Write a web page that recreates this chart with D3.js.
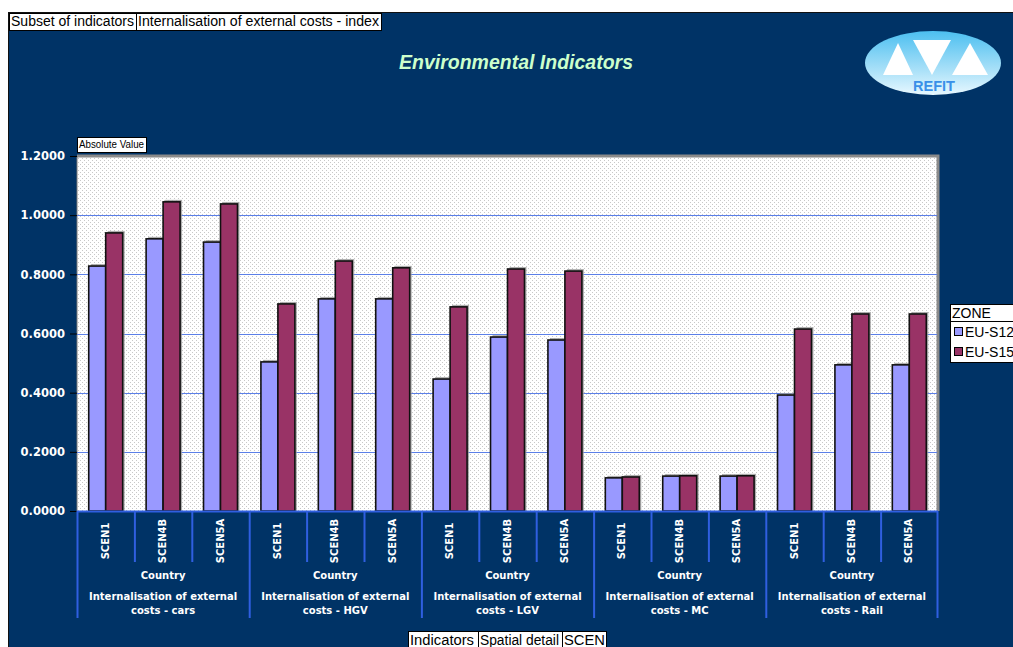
<!DOCTYPE html>
<html><head><meta charset="utf-8">
<script src="https://cdn.jsdelivr.net/npm/d3@7"></script>
<style>body{margin:0;background:#fff}svg{display:block}</style>
</head><body>
<svg id="c" width="1013" height="647"></svg>
<script>
const groups = ["Internalisation of external costs - cars","Internalisation of external costs - HGV","Internalisation of external costs - LGV","Internalisation of external costs - MC","Internalisation of external costs - Rail"];
const groupLines = [["Internalisation of external","costs - cars"],["Internalisation of external","costs - HGV"],["Internalisation of external","costs - LGV"],["Internalisation of external","costs - MC"],["Internalisation of external","costs - Rail"]];
const scens = ["SCEN1","SCEN4B","SCEN5A"];
const seriesNames = ["EU-S12","EU-S15"];
const euS12 = [0.828,0.920,0.909, 0.504,0.717,0.717, 0.446,0.588,0.578, 0.112,0.118,0.118, 0.392,0.494,0.494];
const euS15 = [0.940,1.045,1.038, 0.700,0.845,0.822, 0.690,0.818,0.811, 0.115,0.119,0.119, 0.615,0.666,0.666];
const yTicks = [0,0.2,0.4,0.6,0.8,1.0,1.2];
const colors = ["#9999FF","#993366"];

const svg = d3.select("#c");
const navy = "#003366";
svg.append("rect").attr("x",8).attr("y",12).attr("width",1005).attr("height",635).attr("fill",navy);
svg.append("line").attr("x1",8.5).attr("x2",8.5).attr("y1",12).attr("y2",647).attr("stroke","#111");
svg.append("line").attr("x1",8).attr("x2",1013).attr("y1",12.5).attr("y2",12.5).attr("stroke","#111");

const defs = svg.append("defs");
const pat = defs.append("pattern").attr("id","dots").attr("width",4).attr("height",4).attr("patternUnits","userSpaceOnUse");
pat.append("rect").attr("width",4).attr("height",4).attr("fill","#ffffff");
pat.append("rect").attr("x",0).attr("y",0).attr("width",1).attr("height",1).attr("fill","#c8c8c8");
pat.append("rect").attr("x",2).attr("y",2).attr("width",1).attr("height",1).attr("fill","#c8c8c8");
const grad = defs.append("linearGradient").attr("id","lg").attr("x1",0).attr("y1",0).attr("x2",0).attr("y2",1);
grad.append("stop").attr("offset","0%").attr("stop-color","#4cbff0");
grad.append("stop").attr("offset","60%").attr("stop-color","#a8e0f8");
grad.append("stop").attr("offset","100%").attr("stop-color","#e8f8ff");

const L=77, R=938, T=156, B=511;
const cats = [];
groups.forEach((g,gi)=>scens.forEach((s,si)=>cats.push(gi+"|"+s)));
const x0 = d3.scaleBand().domain(cats).range([L,R]).paddingInner(0).paddingOuter(0);
const x1 = d3.scaleBand().domain(seriesNames).range([0,x0.bandwidth()]).paddingInner(0).paddingOuter(0.69);
const y = d3.scaleLinear().domain([0,1.2]).range([B,T]);

// plot bg
svg.append("rect").attr("x",L).attr("y",T).attr("width",R-L).attr("height",B-T).attr("fill","url(#dots)");
svg.append("path").attr("d",`M${L},${T}H${R}V${B}`).attr("fill","none").attr("stroke","#8a8a8a").attr("stroke-width",3);
svg.append("line").attr("x1",L).attr("x2",L).attr("y1",T).attr("y2",B).attr("stroke","#777").attr("stroke-width",1);

// gridlines
svg.append("g").selectAll("line").data(yTicks.filter(t=>t>0 && t<1.2)).join("line")
  .attr("x1",L).attr("x2",R-1).attr("y1",d=>Math.round(y(d))+0.5).attr("y2",d=>Math.round(y(d))+0.5)
  .attr("stroke","#5b7fe8").attr("stroke-width",1.2);

// y axis
const yAxis = d3.axisLeft(y).tickValues(yTicks).tickFormat(d3.format(".4f")).tickSize(7).tickPadding(5);
const ya = svg.append("g").attr("transform",`translate(${L},0)`).call(yAxis);
ya.select(".domain").remove();
ya.selectAll(".tick line").attr("stroke","#000");
ya.selectAll("text").attr("fill","#fff").attr("font-family","'DejaVu Sans',Verdana,sans-serif").attr("font-weight","bold").attr("font-size","11.5px");

// bars
const data = [];
cats.forEach((c,i)=>{ data.push({c,s:seriesNames[0],v:euS12[i],k:0}); data.push({c,s:seriesNames[1],v:euS15[i],k:1}); });
const bw = x1.bandwidth();
svg.append("g").selectAll("rect").data(data).join("rect")
  .attr("x",d=>x0(d.c)+x1(d.s)+2).attr("y",d=>y(d.v)-2).attr("width",bw).attr("height",d=>B-y(d.v)+2)
  .attr("fill","#9a9a9a").attr("opacity",0.8);
svg.append("g").selectAll("rect").data(data).join("rect")
  .attr("x",d=>x0(d.c)+x1(d.s)).attr("y",d=>y(d.v)).attr("width",bw).attr("height",d=>B-y(d.v))
  .attr("fill",d=>colors[d.k]).attr("stroke","#111").attr("stroke-width",1.6);

// bottom axis area
svg.append("line").attr("x1",L).attr("x2",R).attr("y1",B+0.5).attr("y2",B+0.5).attr("stroke","#2f5fe0").attr("stroke-width",2);
const axg = svg.append("g");
cats.forEach((c,i)=>{
  const xl = x0(c);
  const isGroup = i%3===0;
  axg.append("line").attr("x1",xl+0.5).attr("x2",xl+0.5).attr("y1",B).attr("y2",isGroup?618:562).attr("stroke","#2f5fe0").attr("stroke-width",2);
  axg.append("text").attr("transform",`translate(${xl+x0.bandwidth()/2+3},${541}) rotate(-90)`)
    .attr("text-anchor","middle").attr("fill","#fff").attr("font-family","'DejaVu Sans',Verdana,sans-serif")
    .attr("font-weight","bold").attr("font-size","10px").text(c.split("|")[1]);
});
axg.append("line").attr("x1",R-0.5).attr("x2",R-0.5).attr("y1",B).attr("y2",618).attr("stroke","#2f5fe0").attr("stroke-width",2);
groups.forEach((g,gi)=>{
  const xa = x0(gi+"|SCEN1"), xb = x0(gi+"|SCEN5A")+x0.bandwidth();
  const cx=(xa+xb)/2;
  const t = (txt,yy)=>axg.append("text").attr("x",cx).attr("y",yy).attr("text-anchor","middle").attr("fill","#fff")
    .attr("font-family","'DejaVu Sans',Verdana,sans-serif").attr("font-weight","bold").attr("font-size","10px").text(txt);
  t("Country",579);
  t(groupLines[gi][0],600);
  t(groupLines[gi][1],614);
});

// title
svg.append("text").attr("x",516).attr("y",69).attr("text-anchor","middle").attr("fill","#ccffcc")
  .attr("font-family","'Liberation Sans',Arial,sans-serif").attr("font-weight","bold").attr("font-style","italic")
  .attr("font-size","19.5px").text("Environmental Indicators");

// header boxes
function box(x,yy,w,h,txt,size,tl){
  svg.append("rect").attr("x",x+0.5).attr("y",yy+0.5).attr("width",w).attr("height",h).attr("fill","#fff").attr("stroke","#000");
  const t = svg.append("text").attr("x",x+2).attr("y",yy+h-4).attr("fill","#000").attr("font-family","'Liberation Sans',Arial,sans-serif")
    .attr("font-size",size+"px").text(txt);
  if (tl) t.attr("textLength",tl).attr("lengthAdjust","spacingAndGlyphs");
}
box(9,13,127,17,"Subset of indicators",14,123);
box(136,13,245,17,"Internalisation of external costs - index",14,241);
box(77,137,69,15,"Absolute Value",11,65);
box(408,631,70,18,"Indicators",14,64);
box(478,631,84,18,"Spatial detail",14,79);
box(562,631,44,18,"SCEN",14,41);

// legend
const lg = svg.append("g");
lg.append("rect").attr("x",950.5).attr("y",304.5).attr("width",70).attr("height",58).attr("fill","#fff").attr("stroke","#000");
lg.append("line").attr("x1",950).attr("x2",1013).attr("y1",321.5).attr("y2",321.5).attr("stroke","#000");
lg.append("text").attr("x",952).attr("y",318).attr("font-family","'Liberation Sans',Arial,sans-serif").attr("font-size","14px").text("ZONE");
seriesNames.forEach((s,i)=>{
  const yy = 327+i*20;
  lg.append("rect").attr("x",954.5).attr("y",yy+0.5).attr("width",8).attr("height",8).attr("fill",colors[i]).attr("stroke","#000");
  lg.append("text").attr("x",965).attr("y",yy+10).attr("font-family","'Liberation Sans',Arial,sans-serif").attr("font-size","14px").text(s);
});

// logo
const lo = svg.append("g");
lo.append("ellipse").attr("cx",933).attr("cy",63).attr("rx",68).attr("ry",32).attr("fill","url(#lg)");
lo.append("path").attr("d","M883,75 L913,75 L898,43 Z").attr("fill","#fff");
lo.append("path").attr("d","M913,40 L951,40 L932,75 Z").attr("fill","#fff");
lo.append("path").attr("d","M952,75 L988,75 L970,43 Z").attr("fill","#fff");
lo.append("text").attr("x",934).attr("y",91).attr("text-anchor","middle").attr("fill","#3a90e8")
  .attr("font-family","'Liberation Sans',Arial,sans-serif").attr("font-weight","bold").attr("font-size","14px")
  .attr("textLength",42).attr("lengthAdjust","spacingAndGlyphs").text("REFIT");
</script>
</body></html>
